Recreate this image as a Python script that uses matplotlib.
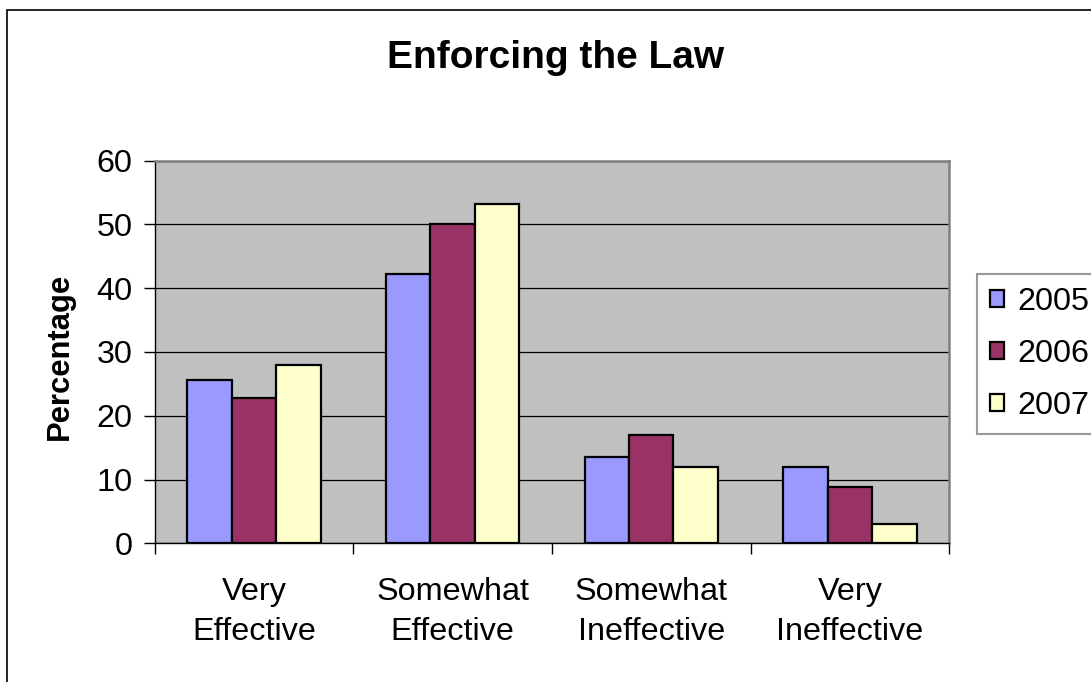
import numpy as np
import matplotlib
matplotlib.use("Agg")
import matplotlib.pyplot as plt
from matplotlib.patches import Rectangle

plt.rcParams['font.family'] = ['Liberation Sans', 'DejaVu Sans']

categories = ["Very\nEffective", "Somewhat\nEffective", "Somewhat\nIneffective", "Very\nIneffective"]
years = ["2005", "2006", "2007"]
v2005 = [25.6, 42.2, 13.5, 12.0]
v2006 = [22.8, 50.0, 17.0, 8.9]
v2007 = [27.9, 53.2, 12.0, 3.1]
colors = ["#9999FF", "#993366", "#FFFFCC"]

fig = plt.figure(figsize=(10.91, 6.82), dpi=100)
ax = fig.add_axes([0.1418, 0.2034, 0.870 - 0.1418, 0.7644 - 0.2034])
ax.set_facecolor("#C0C0C0")

x = np.arange(len(categories))
w = 0.224
handles = []
for i, (vals, c, lab) in enumerate(zip([v2005, v2006, v2007], colors, years)):
    b = ax.bar(x + (i - 1) * w, vals, width=w, color=c, edgecolor="black",
               linewidth=1.6, label=lab, zorder=3)
    handles.append(b)

ax.set_ylim(0, 60)
ax.set_xlim(-0.5, 3.5)
ax.set_yticks(range(0, 61, 10))
ax.yaxis.grid(True, color="black", linewidth=0.9, zorder=1)
ax.set_axisbelow(True)

ax.set_xticks(np.arange(-0.5, 4, 1))
ax.set_xticklabels([])
ax.set_xticks(x, minor=True)
ax.set_xticklabels(categories, minor=True, fontsize=23.3, linespacing=1.45)
ax.tick_params(axis="x", which="minor", length=0, pad=24)
ax.tick_params(axis="x", which="major", direction="out", length=8, width=1)
ax.tick_params(axis="y", direction="out", length=8, width=1, labelsize=23.3, pad=8)

for s in ["top", "right"]:
    ax.spines[s].set_color("#808080")
    ax.spines[s].set_linewidth(1.8)
for s in ["left", "bottom"]:
    ax.spines[s].set_color("black")
    ax.spines[s].set_linewidth(1.0)

fig.text(0.509, 0.915, "Enforcing the Law", ha="center", va="center",
         fontsize=28, fontweight="bold")
fig.text(0.055, 0.477, "Percentage", ha="center", va="center", rotation=90,
         fontsize=22.3, fontweight="bold")

leg = fig.legend(handles=handles, labels=years, loc="upper left",
                 bbox_to_anchor=(976.7 / 1091, 1 - 274 / 682),
                 fontsize=23.3, frameon=True, fancybox=False,
                 handlelength=0.45, handleheight=0.45, handletextpad=0.4,
                 labelspacing=0.68, borderpad=0.4, borderaxespad=0)
leg.get_frame().set_edgecolor("#808080")
leg.get_frame().set_linewidth(1.5)

# outer chart border
fig.patches.append(Rectangle((6.5 / 1091, -0.1), 1.2, 1 - 9.5 / 682 + 0.1,
                             transform=fig.transFigure, fill=False,
                             edgecolor="black", linewidth=1.2, zorder=0))

fig.savefig("out.png", dpi=100)
